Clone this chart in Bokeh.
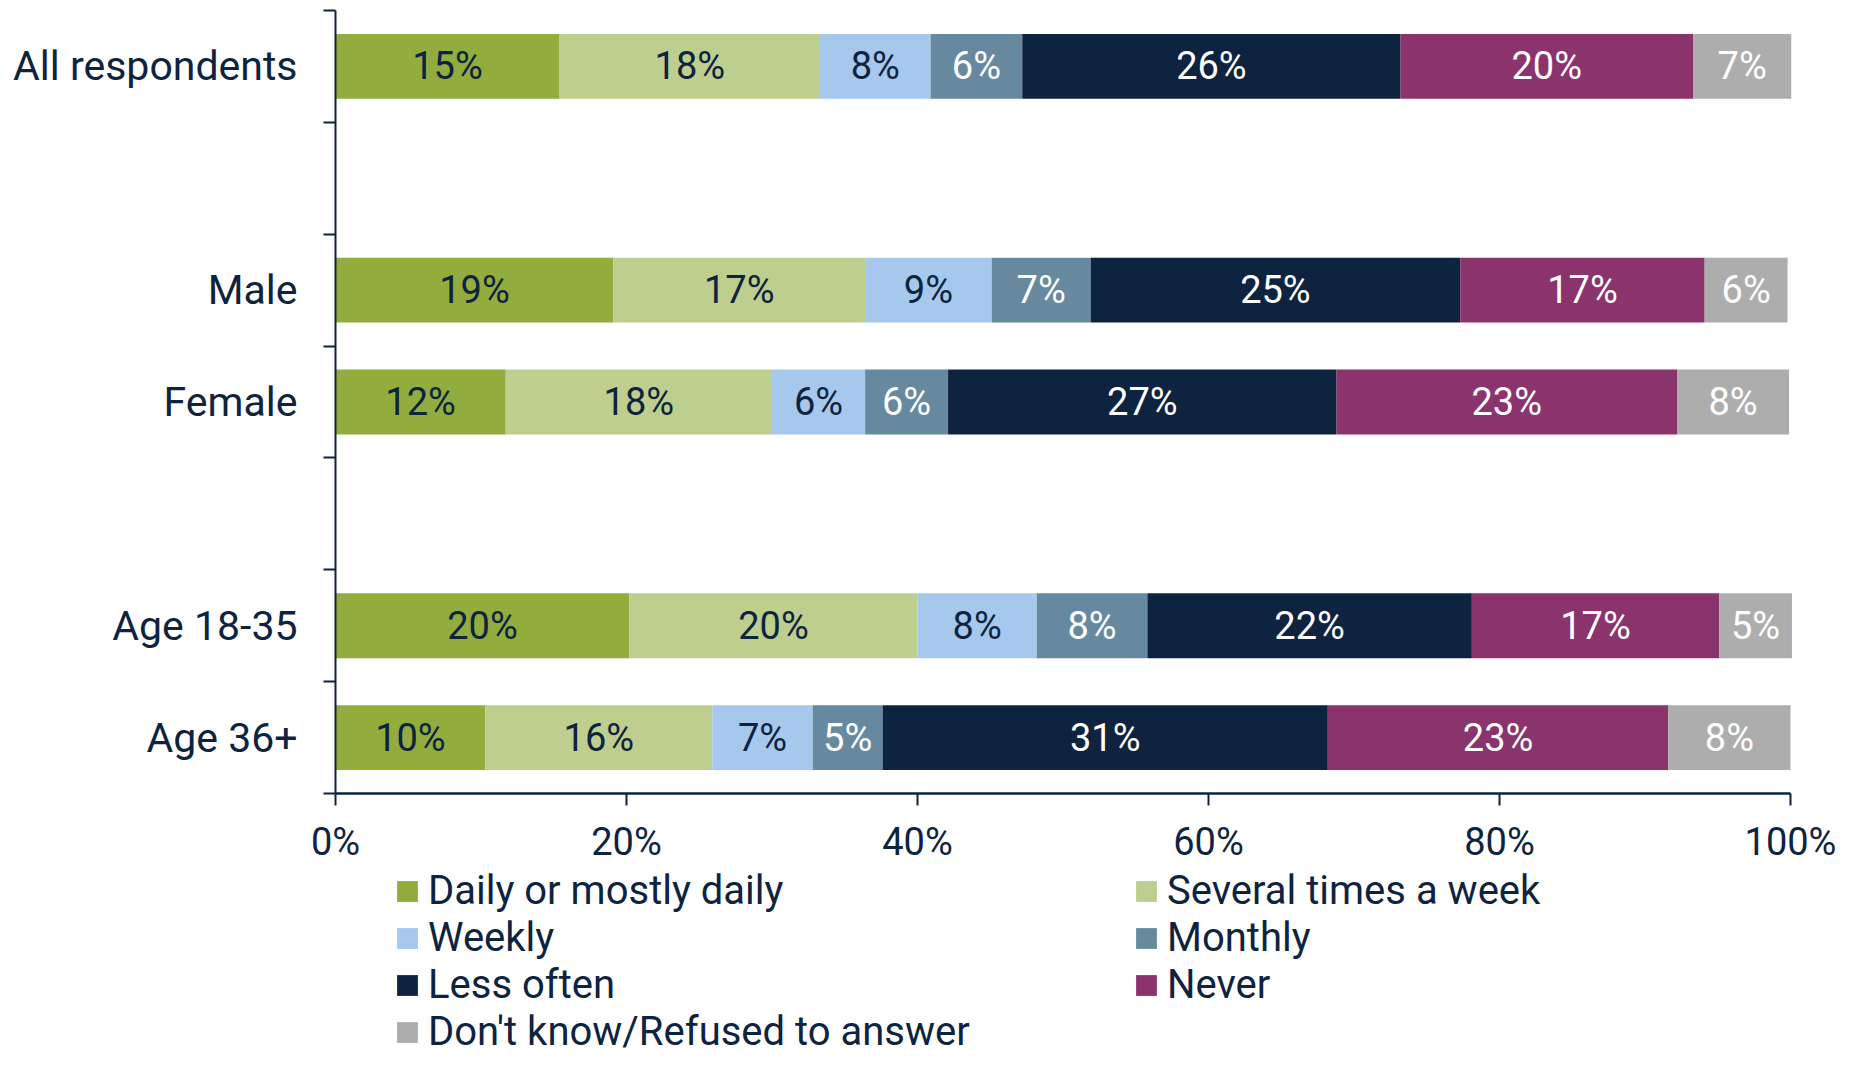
from bokeh.plotting import figure
from bokeh.models import (ColumnDataSource, Range1d, FixedTicker, LinearAxis, Legend,
                          LegendItem, PrintfTickFormatter)
from bokeh.core.properties import value
from bokeh.embed import file_html
from bokeh.resources import INLINE

# ---------------- data ----------------
rows = ["All respondents", "", "Male", "Female", "", "Age 18-35", "Age 36+"]
series = ["Daily or mostly daily", "Several times a week", "Weekly", "Monthly",
          "Less often", "Never", "Don't know/Refused to answer"]
all_respondents = [15.4, 17.9, 7.6, 6.3, 26.0, 20.1, 6.75]
male = [19.1, 17.3, 8.7, 6.8, 25.4, 16.8, 5.7]
female = [11.7, 18.3, 6.4, 5.7, 26.7, 23.4, 7.7]
age_18_35 = [20.2, 19.8, 8.2, 7.6, 22.3, 17.0, 5.0]
age_36_plus = [10.3, 15.6, 6.9, 4.8, 30.6, 23.4, 8.4]
x_ticks = [0, 20, 40, 60, 80, 100]

colors = ["#92AD3E", "#BDCE8E", "#A6C8EC", "#67899F", "#0E2340", "#8B336D", "#ADADAD"]
label_colors = ["#0E2340", "#0E2340", "#0E2340", "#FFFFFF", "#FFFFFF", "#FFFFFF", "#FFFFFF"]
group_values = {"All respondents": all_respondents, "Male": male, "Female": female,
                "Age 18-35": age_18_35, "Age 36+": age_36_plus}

TXT = "#0E2340"
FONT = "Roboto"

# layout (pixels)
W, H = 1840, 1055
AXIS_X0, AXIS_X1 = 335, 1790      # pixel columns of 0% and 100%
AXIS_TOP, AXIS_Y = 10, 793        # pixel rows of the top of the y axis and of the x axis
n = len(rows)
ppx = (AXIS_X1 - AXIS_X0) / 100.0
ppy = (AXIS_Y - AXIS_TOP) / n
x_lo, x_hi = -AXIS_X0 / ppx, 100 + (W - AXIS_X1) / ppx
y_lo, y_hi = -(H - AXIS_Y) / ppy, n + AXIS_TOP / ppy

row_y = {r: n - i - 0.5 for i, r in enumerate(rows) if r}

p = figure(width=W, height=H, output_backend="svg", toolbar_location=None,
           x_range=Range1d(x_lo, x_hi), y_range=Range1d(y_lo, y_hi),
           min_border_left=0, min_border_right=0, min_border_top=0, min_border_bottom=0)
p.outline_line_color = None
p.xgrid.visible = False
p.ygrid.visible = False

renderers = []
for j, s in enumerate(series):
    ys, lefts, rights, labels = [], [], [], []
    for r, vals in group_values.items():
        left = sum(vals[:j])
        ys.append(row_y[r])
        lefts.append(left)
        rights.append(left + vals[j])
        labels.append(f"{round(vals[j])}%")
    src = ColumnDataSource(dict(y=ys, left=lefts, right=rights, label=labels,
                                xc=[(a + b) / 2 for a, b in zip(lefts, rights)]))
    r_ = p.hbar(y="y", left="left", right="right", height=0.58, source=src,
                fill_color=colors[j], line_color=None)
    p.text(x="xc", y="y", text="label", source=src, text_align="center",
           text_baseline="middle", text_color=label_colors[j],
           text_font=value(FONT), text_font_size="38px")
    renderers.append(r_)

# x axis, pinned at y = 0
xa = p.xaxis[0]
xa.fixed_location = 0
xa.bounds = (0, 100)
xa.ticker = FixedTicker(ticks=x_ticks)
xa.formatter = PrintfTickFormatter(format="%d%%")
xa.axis_line_color = TXT
xa.axis_line_width = 2.5
xa.major_tick_line_color = TXT
xa.major_tick_line_width = 2
xa.major_tick_in = 0
xa.major_tick_out = 12
xa.minor_tick_line_color = None
xa.major_label_text_font = FONT
xa.major_label_text_font_size = "38px"
xa.major_label_text_color = TXT
xa.major_label_standoff = 14

# y axis pinned at x = 0: boundary ticks
ya = p.yaxis[0]
ya.fixed_location = 0
ya.bounds = (0, n)
ya.ticker = FixedTicker(ticks=list(range(n + 1)))
ya.major_label_overrides = {i: "" for i in range(n + 1)}
ya.axis_line_color = TXT
ya.axis_line_width = 2
ya.major_tick_line_color = TXT
ya.major_tick_line_width = 2
ya.major_tick_in = 0
ya.major_tick_out = 12
ya.minor_tick_line_color = None
ya.major_label_standoff = 0

# category labels at slot centres
centers = [row_y[r] for r in rows if r]
ya2 = LinearAxis(ticker=FixedTicker(ticks=centers), fixed_location=0,
                 major_label_overrides={row_y[r]: r for r in rows if r})
ya2.axis_line_color = None
ya2.major_tick_line_color = None
ya2.major_tick_in = 0
ya2.major_tick_out = 0
ya2.minor_tick_line_color = None
ya2.major_label_text_font = FONT
ya2.major_label_text_font_size = "41px"
ya2.major_label_text_color = TXT
ya2.major_label_standoff = 38
p.add_layout(ya2, "left")

# legends: two columns
ROW_H = 47
def make_legend(idx, loc):
    leg = Legend(items=[LegendItem(label=series[k], renderers=[renderers[k]]) for k in idx],
                 location=loc, orientation="vertical")
    leg.label_text_font = FONT
    leg.label_text_font_size = "40px"
    leg.label_text_color = TXT
    leg.glyph_width = 26
    leg.glyph_height = 26
    leg.label_standoff = 8
    leg.spacing = 0
    leg.label_height = ROW_H
    leg.padding = 0
    leg.margin = 0
    leg.border_line_color = None
    leg.background_fill_alpha = 0
    return leg

p.add_layout(make_legend([0, 2, 4, 6], (394, 0)), "center")
p.add_layout(make_legend([1, 3, 5], (1133, ROW_H)), "center")

open("out.html", "w").write(file_html(p, INLINE))
